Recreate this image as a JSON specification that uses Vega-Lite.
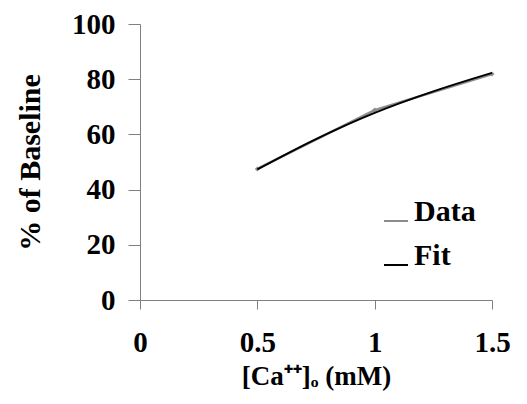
{
  "$schema": "https://vega.github.io/schema/vega-lite/v6.json",
  "autosize": "none",
  "padding": {"left": 140, "top": 24, "right": 35, "bottom": 104},
  "width": 352,
  "height": 276,
  "background": "white",
  "config": {
    "view": {"stroke": null},
    "font": "Liberation Serif",
    "axis": {
      "domainColor": "#808080",
      "tickColor": "#808080",
      "grid": false,
      "labelFont": "Liberation Serif",
      "labelFontWeight": "bold",
      "labelFontSize": 29,
      "labelColor": "black",
      "titleFont": "Liberation Serif",
      "titleFontWeight": "bold",
      "titleFontSize": 29,
      "titleColor": "black"
    },
    "legend": {
      "labelFont": "Liberation Serif",
      "labelFontWeight": "bold",
      "labelFontSize": 30,
      "labelColor": "black"
    }
  },
  "datasets": {
    "data": [
      {"x": 0.5, "y": 47.5, "series": "Data"},
      {"x": 1.0, "y": 68.8, "series": "Data"},
      {"x": 1.5, "y": 81.9, "series": "Data"}
    ],
    "fit": [
      {"x": 0.5, "y": 47.3, "series": "Fit"},
      {"x": 0.75, "y": 58.3, "series": "Fit"},
      {"x": 1.0, "y": 67.8, "series": "Fit"},
      {"x": 1.25, "y": 75.6, "series": "Fit"},
      {"x": 1.5, "y": 82.3, "series": "Fit"}
    ]
  },
  "layer": [
    {
      "data": {"name": "data"},
      "mark": {"type": "line", "strokeWidth": 2.5, "point": {"shape": "diamond", "size": 25, "filled": true, "color": "#666"}},
      "encoding": {
        "x": {"field": "x", "type": "quantitative",
          "scale": {"domain": [0, 1.5], "nice": false, "zero": false},
          "axis": {"values": [0, 0.5, 1, 1.5], "format": "~g", "tickSize": 9, "labelPadding": 19, "title": "[Ca⁺⁺]ₒ (mM)", "titleFontSize": 27, "titlePadding": 6, "labelFlush": false}},
        "y": {"field": "y", "type": "quantitative",
          "scale": {"domain": [0, 100], "nice": false},
          "axis": {"values": [0, 20, 40, 60, 80, 100], "tickSize": 12, "labelPadding": 13, "title": "% of Baseline", "titleFontSize": 30, "titlePadding": 26, "labelFlush": false}},
        "color": {"field": "series", "type": "nominal",
          "scale": {"domain": ["Data", "Fit"], "range": ["#8c8c8c", "#000000"]},
          "legend": {
            "orient": "none", "legendX": 241, "legendY": 182,
            "title": null, "symbolType": "stroke", "symbolSize": 576, "symbolStrokeWidth": 2,
            "labelFont": "Liberation Serif", "labelFontWeight": "bold", "labelFontSize": 30, "labelColor": "black",
            "labelBaseline": "alphabetic",
            "rowPadding": 14, "labelOffset": 3,
            "encode": {"labels": {"update": {"fontWeight": {"value": "bold"}, "font": {"value": "Liberation Serif"}}}}
          }}
      }
    },
    {
      "data": {"name": "fit"},
      "mark": {"type": "line", "strokeWidth": 2, "interpolate": "monotone"},
      "encoding": {
        "x": {"field": "x", "type": "quantitative"},
        "y": {"field": "y", "type": "quantitative"},
        "color": {"field": "series", "type": "nominal"}
      }
    }
  ]
}
